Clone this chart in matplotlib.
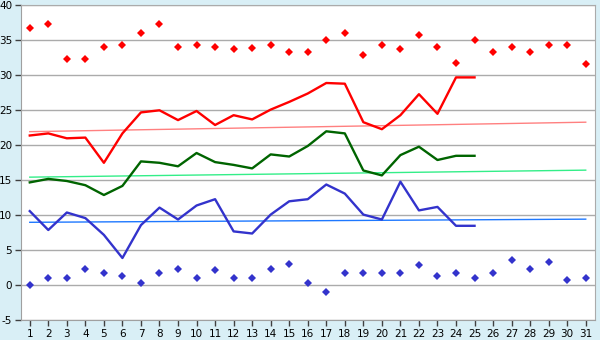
import matplotlib
matplotlib.use('Agg')
import matplotlib.pyplot as plt

days = list(range(1, 32))
line_days = list(range(1, 26))

# daily maxima (red points) and minima (blue points), all 31 days
max_points = [36.7, 37.3, 32.3, 32.3, 34.0, 34.4, 36.1, 37.3, 34.0, 34.4,
              34.0, 33.7, 33.9, 34.4, 33.4, 33.4, 35.0, 36.1, 32.9, 34.4,
              33.7, 35.7, 34.0, 31.7, 35.0, 33.4, 34.0, 33.4, 34.4, 34.4, 31.6]
min_points = [0.0, 1.1, 1.1, 2.3, 1.7, 1.4, 0.4, 1.7, 2.3, 1.1,
              2.2, 1.1, 1.1, 2.3, 3.0, 0.3, -1.0, 1.7, 1.7, 1.7,
              1.7, 2.9, 1.4, 1.7, 1.1, 1.7, 3.6, 2.3, 3.4, 0.7, 1.1]

# lines for days 1-25
red_line = [21.4, 21.7, 21.0, 21.1, 17.5, 21.7, 24.7, 25.0, 23.6, 24.9,
            22.9, 24.3, 23.7, 25.1, 26.2, 27.4, 28.9, 28.8, 23.3, 22.3,
            24.3, 27.3, 24.5, 29.7, 29.7]
green_line = [14.7, 15.2, 14.9, 14.3, 12.9, 14.2, 17.7, 17.5, 17.0, 18.9,
              17.6, 17.2, 16.7, 18.7, 18.4, 19.9, 22.0, 21.7, 16.4, 15.7,
              18.6, 19.8, 17.9, 18.5, 18.5]
blue_line = [10.6, 7.9, 10.4, 9.6, 7.2, 3.9, 8.6, 11.1, 9.4, 11.4,
             12.3, 7.7, 7.4, 10.1, 12.0, 12.3, 14.4, 13.1, 10.1, 9.4,
             14.8, 10.7, 11.2, 8.5, 8.5]

# trend lines, start (day 1) and end (day 31)
trend_days = [1, 31]
red_trend = [21.95, 23.3]
green_trend = [15.45, 16.45]
blue_trend = [9.0, 9.45]

bg = '#d9eff6'
fig = plt.figure(figsize=(6, 3.4), dpi=100, facecolor=bg)
ax = fig.add_axes([20.5/600, 1-320.3/340, 574.5/600, 315/340])
ax.set_facecolor('white')

for y in range(-5, 41, 5):
    ax.axhline(y, color='#ababab', lw=1.0, zorder=0)

ax.plot(trend_days, red_trend, color='#ff8080', lw=1.0, zorder=1)
ax.plot(trend_days, green_trend, color='#33ee88', lw=1.0, zorder=1)
ax.plot(trend_days, blue_trend, color='#1e78ff', lw=1.0, zorder=1)

ax.plot(line_days, red_line, color='#ff0000', lw=1.7, zorder=2)
ax.plot(line_days, green_line, color='#006400', lw=1.7, zorder=2)
ax.plot(line_days, blue_line, color='#3333cc', lw=1.7, zorder=2)

ax.plot(days, max_points, 'D', color='#ff0000', ms=4, mew=0, ls='none', zorder=3)
ax.plot(days, min_points, 'D', color='#3333cc', ms=4, mew=0, ls='none', zorder=3)

ax.set_xlim(0.5, 31.5)
ax.set_ylim(-5, 40)
ax.set_xticks(days)
ax.set_yticks(range(-5, 41, 5))
ax.set_yticklabels([str(v) for v in range(-5, 41, 5)])
ax.tick_params(axis='both', labelsize=7.5, length=4, width=1, pad=2,
               color='#404040', labelcolor='black')

for side in ['top', 'right']:
    ax.spines[side].set_color('#ababab')
for side in ['left', 'bottom']:
    ax.spines[side].set_color('#a0a0a0')

fig.savefig('out.png', dpi=100, facecolor=bg)
